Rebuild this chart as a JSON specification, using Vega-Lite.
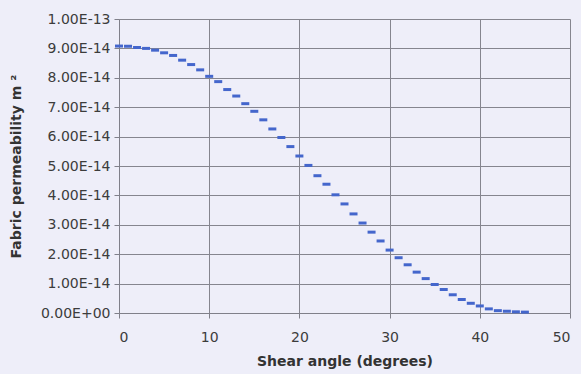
{
  "$schema": "https://vega.github.io/schema/vega-lite/v6.json",
  "width": 451,
  "height": 294,
  "autosize": "none",
  "padding": {"left": 119, "top": 19, "right": 11, "bottom": 61},
  "background": "#EEEEF9",
  "config": {"view": {"stroke": null}, "font": "DejaVu Sans"},
  "data": {
    "values": [
      {"angle": 0, "permeability": 9.08e-14},
      {"angle": 1, "permeability": 9.07e-14},
      {"angle": 2, "permeability": 9.03e-14},
      {"angle": 3, "permeability": 9.0e-14},
      {"angle": 4, "permeability": 8.94e-14},
      {"angle": 5, "permeability": 8.85e-14},
      {"angle": 6, "permeability": 8.76e-14},
      {"angle": 7, "permeability": 8.6e-14},
      {"angle": 8, "permeability": 8.45e-14},
      {"angle": 9, "permeability": 8.27e-14},
      {"angle": 10, "permeability": 8.05e-14},
      {"angle": 11, "permeability": 7.87e-14},
      {"angle": 12, "permeability": 7.6e-14},
      {"angle": 13, "permeability": 7.38e-14},
      {"angle": 14, "permeability": 7.12e-14},
      {"angle": 15, "permeability": 6.86e-14},
      {"angle": 16, "permeability": 6.57e-14},
      {"angle": 17, "permeability": 6.26e-14},
      {"angle": 18, "permeability": 5.97e-14},
      {"angle": 19, "permeability": 5.66e-14},
      {"angle": 20, "permeability": 5.34e-14},
      {"angle": 21, "permeability": 5.02e-14},
      {"angle": 22, "permeability": 4.67e-14},
      {"angle": 23, "permeability": 4.38e-14},
      {"angle": 24, "permeability": 4.02e-14},
      {"angle": 25, "permeability": 3.71e-14},
      {"angle": 26, "permeability": 3.37e-14},
      {"angle": 27, "permeability": 3.06e-14},
      {"angle": 28, "permeability": 2.75e-14},
      {"angle": 29, "permeability": 2.45e-14},
      {"angle": 30, "permeability": 2.14e-14},
      {"angle": 31, "permeability": 1.88e-14},
      {"angle": 32, "permeability": 1.64e-14},
      {"angle": 33, "permeability": 1.39e-14},
      {"angle": 34, "permeability": 1.17e-14},
      {"angle": 35, "permeability": 0.97e-14},
      {"angle": 36, "permeability": 0.8e-14},
      {"angle": 37, "permeability": 0.62e-14},
      {"angle": 38, "permeability": 0.46e-14},
      {"angle": 39, "permeability": 0.33e-14},
      {"angle": 40, "permeability": 0.24e-14},
      {"angle": 41, "permeability": 0.14e-14},
      {"angle": 42, "permeability": 0.08e-14},
      {"angle": 43, "permeability": 0.06e-14},
      {"angle": 44, "permeability": 0.04e-14},
      {"angle": 45, "permeability": 0.03e-14}
    ]
  },
  "mark": {"type": "tick", "orient": "horizontal", "size": 8, "thickness": 3, "color": "#4466CC", "opacity": 1},
  "encoding": {
    "x": {
      "field": "angle",
      "type": "quantitative",
      "scale": {"domain": [0, 50], "nice": false, "zero": true},
      "axis": {
        "values": [0, 10, 20, 30, 40, 50],
        "title": "Shear angle (degrees)",
        "titleFont": "DejaVu Sans",
        "titleFontSize": 14,
        "titleFontWeight": "bold",
        "titleColor": "#333333",
        "titlePadding": 10,
        "labelFont": "DejaVu Sans",
        "labelFontSize": 14,
        "labelColor": "#3C3C3C",
        "labelPadding": 12,
        "tickSize": 5,
        "tickColor": "#80808A",
        "domainColor": "#80808A",
        "gridColor": "#85858F",
        "grid": true
      }
    },
    "y": {
      "field": "permeability",
      "type": "quantitative",
      "scale": {"domain": [0, 1e-13], "nice": false},
      "axis": {
        "values": [0, 1e-14, 2e-14, 3e-14, 4e-14, 5e-14, 6e-14, 7e-14, 8e-14, 9e-14, 1e-13],
        "labelExpr": "datum.value == 0 ? '0.00E+00' : (datum.value > 9.5e-14 ? '1.00E-13' : format(datum.value * 1e14, '.2f') + 'E-14')",
        "title": "Fabric permeability m ²",
        "titleFont": "DejaVu Sans",
        "titleFontSize": 14,
        "titleFontWeight": "bold",
        "titleColor": "#333333",
        "titlePadding": 17,
        "labelFont": "DejaVu Sans",
        "labelFontSize": 14,
        "labelColor": "#3C3C3C",
        "labelPadding": 4,
        "tickSize": 5,
        "tickColor": "#80808A",
        "domainColor": "#80808A",
        "gridColor": "#85858F",
        "grid": true
      }
    }
  }
}
